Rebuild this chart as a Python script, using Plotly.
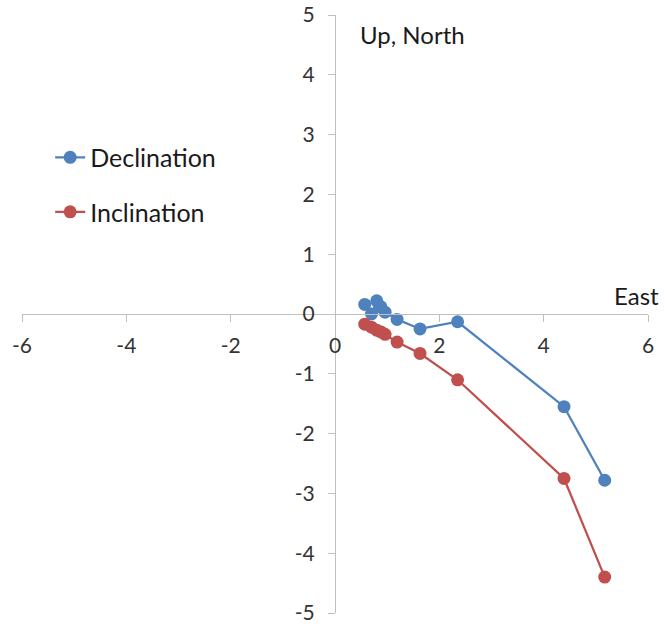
import plotly.graph_objects as go

# Orthogonal projection of the demagnetisation path (shared East component)
east = [5.17, 4.39, 2.35, 1.63, 1.19, 0.96, 0.88, 0.80, 0.70, 0.57]
north = [-2.78, -1.55, -0.13, -0.25, -0.09, 0.03, 0.12, 0.22, 0.00, 0.16]
up = [-4.40, -2.75, -1.10, -0.66, -0.47, -0.34, -0.30, -0.27, -0.22, -0.17]

x_ticks = [-6, -4, -2, 0, 2, 4, 6]
y_ticks = [-5, -4, -3, -2, -1, 0, 1, 2, 3, 4, 5]

blue = "#4F81BD"
red = "#C0504D"
font_family = "Lato, 'Open Sans', sans-serif"

fig = go.Figure()
fig.add_trace(go.Scatter(
    x=east, y=north, name="Declination", mode="lines+markers",
    line=dict(color=blue, width=2.25), marker=dict(color=blue, size=13),
    legendgroup="d",
))
fig.add_trace(go.Scatter(
    x=east, y=up, name="Inclination", mode="lines+markers",
    line=dict(color=red, width=2.25), marker=dict(color=red, size=13),
    legendgroup="i",
))

axis_common = dict(
    showgrid=False, zeroline=False, showline=True, linecolor="#BFBFBF",
    linewidth=1, ticks="outside", ticklen=7, tickcolor="#BFBFBF",
    tickfont=dict(size=21, color="#333333", family=font_family),
    anchor="free", position=0.5, automargin=False,
    ticklabeloverflow="allow",
)

# plain hyphen-minus labels
fig.update_xaxes(range=[-6, 6], tickvals=x_ticks,
                 ticktext=[str(v) for v in x_ticks], ticklabelstandoff=6,
                 **axis_common)
fig.update_yaxes(range=[-5, 5], tickvals=y_ticks,
                 ticktext=[str(v) for v in y_ticks], ticklabelstandoff=9,
                 **axis_common)

fig.add_annotation(text="Up, North", xref="paper", yref="paper",
                   x=0.536, y=0.968, xanchor="left", yanchor="middle",
                   showarrow=False,
                   font=dict(size=24, color="#1a1a1a", family=font_family))
fig.add_annotation(text="East", xref="paper", yref="paper",
                   x=1.02, y=0.531, xanchor="right", yanchor="middle",
                   showarrow=False,
                   font=dict(size=24, color="#1a1a1a", family=font_family))

fig.update_layout(
    width=665, height=624,
    margin=dict(l=22, r=17, t=15, b=11),
    paper_bgcolor="white", plot_bgcolor="white",
    showlegend=True,
    legend=dict(x=0.045, y=0.80, xanchor="left", yanchor="top",
                traceorder="grouped", tracegroupgap=19,
                font=dict(size=25, color="#1a1a1a", family=font_family),
                bgcolor="rgba(0,0,0,0)"),
)

fig.write_html("out.html")
